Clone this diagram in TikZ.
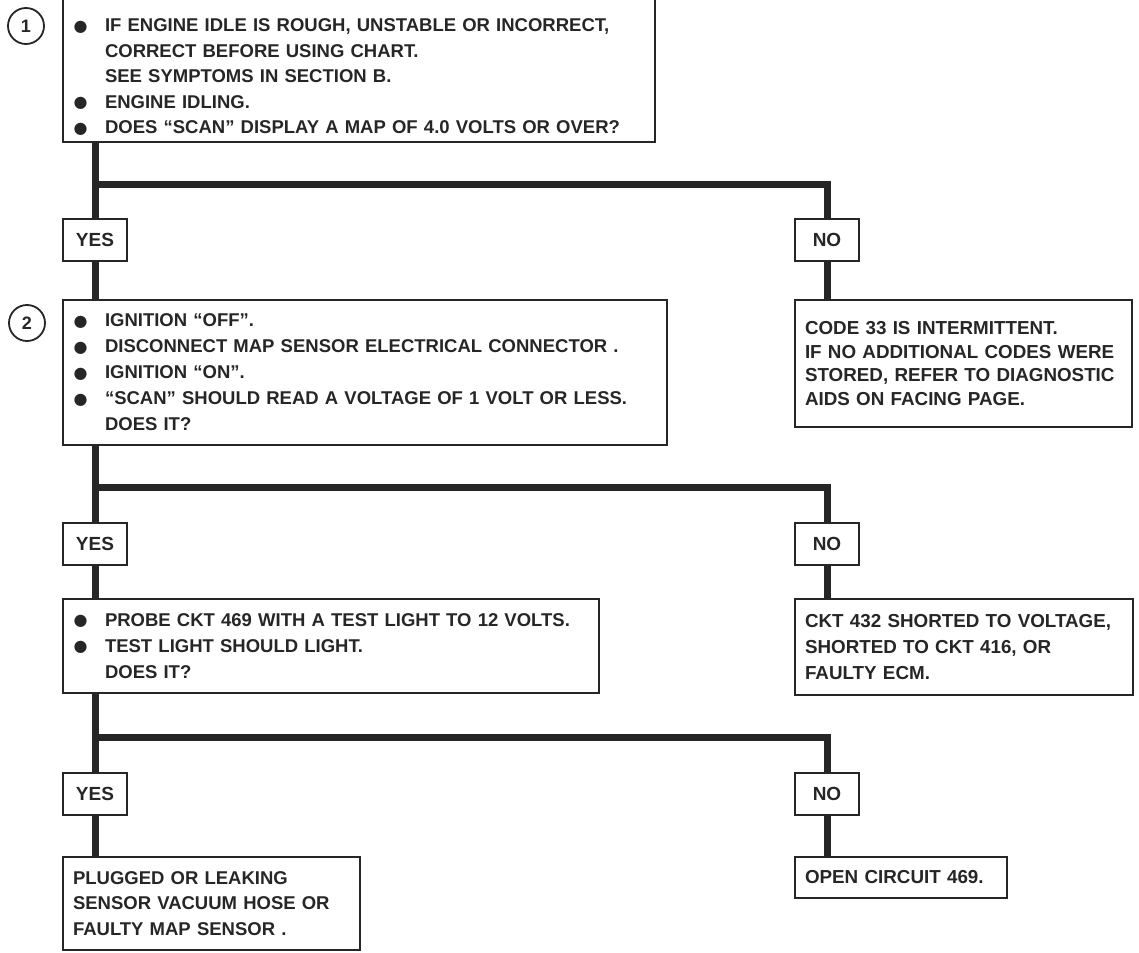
\documentclass[tikz,border=0pt]{standalone}
\usepackage{fontspec}
\setmainfont{Liberation Sans}
\newfontfamily\dotfont{DejaVu Sans}
\usepackage{tikz}
\usetikzlibrary{positioning,calc}
\newcommand\bul{\makebox[32pt][l]{\hspace{0.5pt}\raisebox{0.5pt}{\dotfont\fontsize{16}{16}\selectfont ●}}}
\newcommand\ind{\hspace*{32pt}}
\tikzset{
  qbox/.style={rectangle, draw=black!85, line width=1.8pt, align=left, inner xsep=10pt, inner ysep=0pt,
    outer sep=0pt, font=\fontsize{18.5}{26}\selectfont\bfseries, text=black!85},
  abox/.style={qbox, font=\fontsize{18.8}{26}\selectfont\bfseries},
  tag/.style={rectangle, draw=black!85, line width=1.8pt, minimum width=64pt, minimum height=42pt,
    inner sep=0pt, outer sep=0pt, font=\fontsize{19}{19}\selectfont\bfseries, text=black!85},
  num/.style={circle, draw=black!85, line width=1.8pt, minimum size=36pt, inner sep=0pt,
    font=\fontsize{18}{18}\selectfont\bfseries, text=black!85},
  wire/.style={draw=black!85, line width=7pt},
}
\begin{document}
\begin{tikzpicture}[x=1pt, y=-1pt]
\useasboundingbox (0,0) rectangle (1139,952);
% step 1
\node[qbox, text width=572pt, minimum height=144pt, anchor=south west,
  font=\fontsize{18.5}{25.5}\selectfont\bfseries] (b1) at (63,142)
  {\rule{0pt}{27pt}\bul IF ENGINE IDLE IS ROUGH, UNSTABLE OR INCORRECT,\\
  \ind CORRECT BEFORE USING CHART.\\
  \ind SEE SYMPTOMS IN SECTION B.\\
  \bul ENGINE IDLING.\\
  \bul DOES “SCAN” DISPLAY A MAP OF 4.0 VOLTS OR OVER?};
\node[num] (c1) at (26,26) {1};
\node[tag, below=77pt of b1.south west, anchor=north west] (y1) {YES};
\node[tag, right=732pt of y1.north west, anchor=north west] (n1) {NO};
% step 2
\node[qbox, text width=584pt, minimum height=145pt, below=39pt of y1.south west, anchor=north west] (b2)
  {\bul IGNITION “OFF”.\\
  \bul DISCONNECT MAP SENSOR ELECTRICAL CONNECTOR .\\
  \bul IGNITION “ON”.\\
  \bul “SCAN” SHOULD READ  A VOLTAGE OF 1 VOLT OR LESS.\\
  \ind DOES IT?};
\node[num] (c2) at (27,323) {2};
\node[abox, text width=317pt, minimum height=127pt, below=39pt of n1.south west, anchor=north west,
  font=\fontsize{18.8}{23.5}\selectfont\bfseries] (r1)
  {CODE 33 IS INTERMITTENT.\\
  IF NO ADDITIONAL CODES WERE\\
  STORED, REFER TO DIAGNOSTIC\\
  AIDS ON FACING PAGE.};
\node[tag, below=78pt of b2.south west, anchor=north west] (y2) {YES};
\node[tag, right=732pt of y2.north west, anchor=north west] (n2) {NO};
% step 3
\node[qbox, text width=516pt, minimum height=94pt, below=34pt of y2.south west, anchor=north west] (b3)
  {\bul PROBE CKT 469 WITH A TEST LIGHT TO 12  VOLTS.\\
  \bul TEST LIGHT SHOULD LIGHT.\\
  \ind DOES IT?};
\node[abox, text width=318pt, minimum height=96pt, below=34pt of n2.south west, anchor=north west] (r2)
  {CKT 432 SHORTED TO VOLTAGE,\\
  SHORTED TO CKT 416, OR\\
  FAULTY ECM.};
\node[tag, below=80pt of b3.south west, anchor=north west] (y3) {YES};
\node[tag, right=732pt of y3.north west, anchor=north west] (n3) {NO};
% results
\node[qbox, text width=277pt, minimum height=93pt, below=42pt of y3.south west, anchor=north west,
  font=\fontsize{18.5}{25.5}\selectfont\bfseries] (b4)
  {PLUGGED OR LEAKING\\
  SENSOR  VACUUM HOSE OR\\
  FAULTY MAP SENSOR .};
\node[abox, text width=192pt, minimum height=41pt, below=42pt of n3.south west, anchor=north west] (r3)
  {OPEN CIRCUIT 469.};
% connectors
\draw[wire] (b1.south -| y1) -- (y1.north);
\draw[wire] ($(b1.south -| y1)!0.55!(y1.north)$) -| (n1.north);
\draw[wire] (y1.south) -- (b2.north -| y1);
\draw[wire] (n1.south) -- (r1.north -| n1);
\draw[wire] (b2.south -| y2) -- (y2.north);
\draw[wire] ($(b2.south -| y2)!0.55!(y2.north)$) -| (n2.north);
\draw[wire] (y2.south) -- (b3.north -| y2);
\draw[wire] (n2.south) -- (r2.north -| n2);
\draw[wire] (b3.south -| y3) -- (y3.north);
\draw[wire] ($(b3.south -| y3)!0.55!(y3.north)$) -| (n3.north);
\draw[wire] (y3.south) -- (b4.north -| y3);
\draw[wire] (n3.south) -- (r3.north -| n3);
\end{tikzpicture}
\end{document}
